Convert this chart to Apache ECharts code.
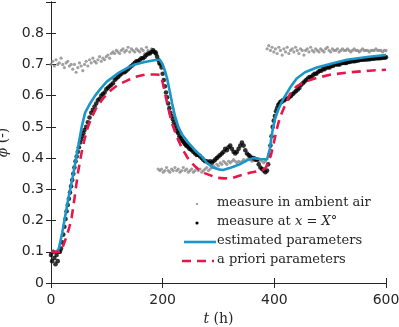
<!DOCTYPE html>
<html>
<head>
<meta charset="utf-8">
<script src="https://cdn.jsdelivr.net/npm/echarts@6/dist/echarts.min.js"></script>
<style>
html,body{margin:0;padding:0;background:#fff;}
#chart{width:399px;height:327px;}
</style>
</head>
<body>
<div id="chart"></div>
<script>
// ---- data ----
const xTicks = [0, 200, 400, 600];
const yTicks = [0, 0.1, 0.2, 0.3, 0.4, 0.5, 0.6, 0.7, 0.8];
const seriesNames = ['measure in ambient air', 'measure at x = X°', 'estimated parameters', 'a priori parameters'];

const ambientAir = [
 [0,0.70],[3,0.71],[6,0.695],[9,0.715],[12,0.70],[15,0.705],[18,0.72],[21,0.70],[24,0.69],[27,0.705],
 [30,0.71],[33,0.695],[36,0.70],[39,0.685],[42,0.70],[45,0.675],[48,0.69],[51,0.705],[54,0.695],[57,0.68],
 [60,0.70],[63,0.71],[66,0.695],[69,0.715],[72,0.705],[75,0.72],[78,0.71],[81,0.705],[84,0.715],[87,0.725],
 [90,0.71],[93,0.72],[96,0.715],[99,0.725],[102,0.73],[105,0.72],[108,0.735],[111,0.74],[114,0.735],[117,0.745],
 [120,0.74],[123,0.735],[126,0.745],[129,0.75],[132,0.74],[135,0.745],[138,0.755],[141,0.74],[144,0.75],[147,0.745],
 [150,0.74],[153,0.75],[156,0.745],[159,0.74],[162,0.75],[165,0.745],[168,0.735],[171,0.755],[174,0.745],[177,0.74],
 [180,0.75],[183,0.745],[186,0.735],[189,0.74],
 [192,0.365],[195,0.36],[198,0.365],[201,0.355],[204,0.36],[207,0.37],[210,0.36],[213,0.355],[216,0.365],[219,0.36],
 [222,0.37],[225,0.36],[228,0.365],[231,0.355],[234,0.36],[237,0.37],[240,0.36],[243,0.365],[246,0.355],[249,0.36],
 [252,0.365],[255,0.355],[258,0.36],[261,0.37],[264,0.36],[267,0.365],[270,0.355],[273,0.36],[276,0.365],[279,0.37],
 [282,0.36],[285,0.365],[288,0.37],[291,0.375],[294,0.37],[297,0.38],[300,0.375],[303,0.385],[306,0.38],[309,0.39],
 [312,0.385],[315,0.38],[318,0.39],[321,0.385],[324,0.39],[327,0.395],[330,0.39],[333,0.385],[336,0.39],[339,0.385],
 [342,0.39],[345,0.395],[348,0.39],[351,0.395],[354,0.40],[357,0.395],[360,0.39],[363,0.395],[366,0.40],[369,0.395],
 [372,0.39],[375,0.395],[378,0.39],[381,0.385],[384,0.39],
 [387,0.75],[390,0.76],[393,0.745],[396,0.755],[399,0.74],[402,0.75],[405,0.735],[408,0.755],[411,0.745],[414,0.73],
 [417,0.75],[420,0.74],[423,0.755],[426,0.735],[429,0.745],[432,0.75],[435,0.74],[438,0.755],[441,0.745],[444,0.735],
 [447,0.75],[450,0.745],[453,0.73],[456,0.745],[459,0.75],[462,0.74],[465,0.755],[468,0.745],[471,0.74],[474,0.75],
 [477,0.745],[480,0.74],[483,0.75],[486,0.745],[489,0.74],[492,0.75],[495,0.755],[498,0.745],[501,0.74],[504,0.75],
 [507,0.745],[510,0.745],[513,0.75],[516,0.74],[519,0.745],[522,0.75],[525,0.745],[528,0.745],[531,0.75],[534,0.745],
 [537,0.74],[540,0.745],[543,0.75],[546,0.745],[549,0.745],[552,0.74],[555,0.745],[558,0.75],[561,0.745],[564,0.745],
 [567,0.745],[570,0.74],[573,0.745],[576,0.745],[579,0.745],[582,0.75],[585,0.745],[588,0.745],[591,0.745],[594,0.74],
 [597,0.745],[600,0.745]
];

const measureAtX = [
 [0,0.09],[2,0.07],[4,0.10],[6,0.08],[8,0.06],[10,0.09],[12,0.07],[14,0.10],
 [16,0.10],[18,0.11],[20,0.13],[22,0.155],[24,0.18],[26,0.205],[28,0.23],[30,0.25],[32,0.27],[34,0.29],
 [36,0.31],[38,0.33],[40,0.35],[42,0.37],[44,0.39],[46,0.405],[48,0.42],[50,0.435],[52,0.45],[54,0.46],
 [56,0.47],[58,0.48],[60,0.49],
 [63,0.50],[66,0.515],[69,0.53],[72,0.545],[75,0.555],[78,0.565],[81,0.575],[84,0.585],[87,0.59],[90,0.60],
 [93,0.605],[96,0.61],[99,0.62],[102,0.625],[105,0.63],[108,0.635],[111,0.64],[114,0.65],[117,0.655],[120,0.66],
 [123,0.665],[126,0.67],[129,0.675],[132,0.675],[135,0.68],[138,0.685],[141,0.69],[144,0.695],[147,0.70],[150,0.705],
 [153,0.71],[156,0.71],[159,0.715],[162,0.72],[165,0.72],[168,0.725],[171,0.73],[174,0.735],[177,0.735],[180,0.74],
 [183,0.745],[186,0.74],
 [188,0.735],[190,0.725],[192,0.715],[194,0.705],[196,0.70],[198,0.69],[200,0.67],[202,0.65],[204,0.63],[206,0.61],
 [208,0.595],[210,0.575],[212,0.56],[214,0.545],[216,0.535],[218,0.525],[220,0.515],[222,0.505],[224,0.495],[226,0.485],
 [228,0.48],[230,0.47],[232,0.465],[234,0.46],[236,0.455],[238,0.45],[240,0.445],[242,0.44],[244,0.44],[246,0.435],
 [248,0.43],[250,0.43],
 [252,0.425],[255,0.42],[258,0.415],[261,0.41],[264,0.41],[267,0.405],[270,0.40],[273,0.395],[276,0.39],[279,0.39],
 [282,0.385],[285,0.39],[288,0.385],[291,0.39],[294,0.395],[297,0.40],[300,0.405],[303,0.41],[306,0.415],[309,0.42],
 [312,0.43],[315,0.425],[318,0.435],[321,0.44],[324,0.43],[327,0.42],[330,0.415],[333,0.42],[336,0.43],[339,0.44],
 [342,0.45],[345,0.44],[348,0.425],[351,0.415],[354,0.41],[357,0.405],[360,0.40],[363,0.40],[366,0.395],[369,0.395],
 [372,0.38],[375,0.37],[378,0.365],[381,0.36],[384,0.355],[387,0.36],
 [389,0.38],[391,0.41],[393,0.44],[395,0.47],[397,0.50],[399,0.52],[401,0.535],[403,0.55],[405,0.56],[407,0.57],
 [409,0.575],[411,0.58],[413,0.58],[415,0.585],
 [418,0.585],[421,0.59],[424,0.59],[427,0.595],[430,0.60],[433,0.605],[436,0.61],[439,0.615],[442,0.62],[445,0.625],
 [448,0.635],[451,0.64],[454,0.645],[457,0.65],[460,0.655],[463,0.66],[466,0.66],[469,0.665],[472,0.67],[475,0.67],
 [478,0.675],[481,0.68],[484,0.68],[487,0.685],[490,0.685],[493,0.69],[496,0.69],[499,0.69],[502,0.695],[505,0.695],
 [508,0.70],[511,0.70],[514,0.70],[517,0.70],[520,0.705],[523,0.705],[526,0.705],[529,0.705],[532,0.708],[535,0.708],
 [538,0.71],[541,0.71],[544,0.71],[547,0.712],[550,0.713],[553,0.714],[556,0.715],[559,0.715],[562,0.716],[565,0.716],
 [568,0.717],[571,0.717],[574,0.718],[577,0.718],[580,0.719],[583,0.72],[586,0.72],[589,0.72],[592,0.721],[595,0.722],
 [598,0.722],[600,0.723]
];

const estimated = [
 [0,0.10],[10,0.10],[14,0.11],[20,0.16],[25,0.21],[30,0.26],[35,0.305],[40,0.35],[47,0.42],[50,0.45],
 [55,0.50],[61,0.545],[70,0.575],[79,0.60],[90,0.625],[100,0.645],[109,0.657],[120,0.672],[138,0.69],[150,0.70],
 [168,0.708],[180,0.712],[190,0.715],[195,0.715],[200,0.70],[204,0.68],[208,0.655],[212,0.62],[217,0.575],[222,0.535],
 [228,0.50],[235,0.475],[246,0.45],[258,0.425],[270,0.405],[279,0.385],[290,0.37],[300,0.364],[308,0.362],[320,0.368],
 [330,0.375],[338,0.38],[350,0.392],[362,0.40],[375,0.397],[387,0.396],[389,0.40],[392,0.43],[395,0.47],[398,0.50],
 [402,0.53],[407,0.555],[412,0.575],[418,0.595],[428,0.625],[440,0.655],[455,0.675],[476,0.69],[505,0.704],[530,0.715],
 [566,0.724],[600,0.73]
];

const apriori = [
 [0,0.10],[17,0.10],[22,0.12],[28,0.15],[33,0.18],[37,0.21],[42,0.27],[48,0.35],[55,0.42],[60,0.46],
 [66,0.50],[74,0.535],[82,0.564],[95,0.595],[109,0.62],[120,0.635],[138,0.65],[155,0.662],[168,0.667],[185,0.668],
 [195,0.667],[198,0.655],[201,0.635],[204,0.61],[210,0.56],[217,0.51],[225,0.47],[235,0.43],[245,0.40],[252,0.385],
 [261,0.368],[275,0.352],[297,0.337],[310,0.335],[326,0.337],[340,0.345],[356,0.353],[370,0.358],[380,0.362],[385,0.37],
 [390,0.39],[394,0.41],[398,0.44],[404,0.49],[410,0.53],[417,0.56],[428,0.605],[440,0.63],[455,0.645],[476,0.657],
 [500,0.667],[535,0.675],[570,0.68],[600,0.683]
];

// ---- chart ----
const axisColor = '#262626';
const blue = '#1a96c8';
const red = '#e8174b';
const serif = 'DejaVu Serif';
const chart = echarts.init(document.getElementById('chart'), null, {renderer: 'canvas'});

const option = {
  animation: false,
  backgroundColor: '#fff',
  grid: {left: 51, right: 13, top: 2, bottom: 44, containLabel: false, outerBoundsMode: 'none'},
  xAxis: [{
    type: 'value', min: xTicks[0], max: xTicks[xTicks.length-1], interval: 200,
    axisLine: {show: true, lineStyle: {color: axisColor, width: 1}},
    axisTick: {show: true, inside: true, length: 5, lineStyle: {color: axisColor}},
    axisLabel: {color: axisColor, fontFamily: 'DejaVu Sans', fontSize: 14, margin: 10},
    splitLine: {show: false},
    name: '{i|t} (h)', nameLocation: 'middle', nameGap: 21,
    nameTextStyle: {color: axisColor, fontFamily: serif, fontSize: 14,
      rich: {i: {fontStyle: 'italic', fontFamily: serif, fontSize: 14, color: axisColor}}}
  }, {
    type: 'value', position: 'top', min: xTicks[0], max: xTicks[xTicks.length-1], interval: 200,
    axisLine: {show: true, lineStyle: {color: axisColor, width: 1}},
    axisTick: {show: true, inside: true, length: 5, lineStyle: {color: axisColor}},
    axisLabel: {show: false}, splitLine: {show: false}
  }],
  yAxis: [{
    type: 'value', min: 0, max: 0.9, interval: 0.1,
    axisLine: {show: true, lineStyle: {color: axisColor, width: 1}},
    axisTick: {show: true, inside: true, length: 5, lineStyle: {color: axisColor}},
    axisLabel: {color: axisColor, fontFamily: 'DejaVu Sans', fontSize: 14, margin: 7,
      formatter: v => { const t = yTicks.find(y => Math.abs(y - v) < 1e-9); return t === undefined ? '' : String(t); }},
    splitLine: {show: false},
    name: '{i|ϕ} (-)', nameLocation: 'middle', nameGap: 30,
    nameTextStyle: {color: axisColor, fontFamily: serif, fontSize: 14,
      rich: {i: {fontStyle: 'italic', fontFamily: serif, fontSize: 14, color: axisColor}}}
  }, {
    type: 'value', position: 'right', min: 0, max: 0.9, interval: 0.1,
    axisLine: {show: true, lineStyle: {color: axisColor, width: 1}},
    axisTick: {show: true, inside: true, length: 5, lineStyle: {color: axisColor}},
    axisLabel: {show: false}, splitLine: {show: false}
  }],
  series: [{
    name: seriesNames[0], type: 'scatter', data: ambientAir, symbol: 'circle', symbolSize: 3.2,
    itemStyle: {color: '#8a8a8a'}, z: 1
  }, {
    name: seriesNames[1], type: 'scatter', data: measureAtX, symbol: 'circle', symbolSize: 4.6,
    itemStyle: {color: '#000'}, z: 2
  }, {
    name: seriesNames[2], type: 'line', data: estimated, showSymbol: false, symbol: 'none',
    lineStyle: {color: blue, width: 2.6}, z: 3
  }, {
    name: seriesNames[3], type: 'line', data: apriori, showSymbol: false, symbol: 'none',
    lineStyle: {color: red, width: 2.6, type: [9, 6]}, z: 4
  }],
  graphic: [
    {type: 'circle', shape: {cx: 197, cy: 204, r: 1.1}, style: {fill: '#8a8a8a'}},
    {type: 'circle', shape: {cx: 197, cy: 223, r: 1.6}, style: {fill: '#000'}},
    {type: 'line', shape: {x1: 184, y1: 242, x2: 216, y2: 242}, style: {stroke: blue, lineWidth: 2.6}},
    {type: 'line', shape: {x1: 182, y1: 261, x2: 214, y2: 261}, style: {stroke: red, lineWidth: 2.6, lineDash: [9, 6]}},
    {type: 'text', left: 217, top: 196, style: {text: seriesNames[0], font: '13px "DejaVu Serif"', fill: axisColor}},
    {type: 'text', left: 217, top: 215, style: {
      rich: {i: {fontStyle: 'italic', fontFamily: serif, fontSize: 13, fill: axisColor},
             n: {fontFamily: serif, fontSize: 13, fill: axisColor}},
      text: '{n|measure at }{i|x}{n| = }{i|X}{n|°}'}},
    {type: 'text', left: 217, top: 234, style: {text: seriesNames[2], font: '13px "DejaVu Serif"', fill: axisColor}},
    {type: 'text', left: 217, top: 253, style: {text: seriesNames[3], font: '13px "DejaVu Serif"', fill: axisColor}}
  ]
};
chart.setOption(option);
</script>
</body>
</html>
